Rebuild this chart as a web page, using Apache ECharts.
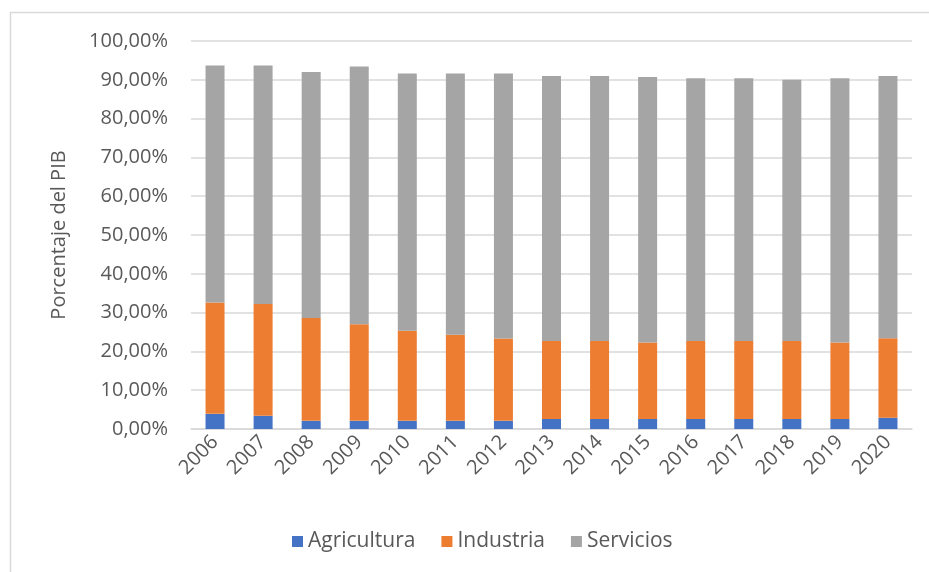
<!DOCTYPE html>
<html>
<head>
<meta charset="utf-8">
<script src="https://cdn.jsdelivr.net/npm/echarts@6/dist/echarts.min.js"></script>
<style>
  html, body { margin: 0; padding: 0; background: #fff; }
  #myChart { width: 929px; height: 572px; }
</style>
</head>
<body>
<div id="myChart"></div>
<script>
  // years on the x axis
  const years = ['2006', '2007', '2008', '2009', '2010', '2011', '2012', '2013',
    '2014', '2015', '2016', '2017', '2018', '2019', '2020']
  // share of GDP, percent
  const agricultura = [3.9, 3.4, 2.1, 2.1, 2.1, 2.1, 2.1, 2.6, 2.6, 2.6, 2.6, 2.6, 2.6, 2.6, 2.9]
  const industria = [28.7, 28.8, 26.5, 24.9, 23.2, 22.2, 21.2, 20.1, 20.1, 19.7, 20.1, 20.1, 20.1, 19.7, 20.5]
  const servicios = [61.1, 61.5, 63.4, 66.4, 66.3, 67.3, 68.3, 68.3, 68.3, 68.4, 67.7, 67.7, 67.3, 68.1, 67.6]

  const font = '"Open Sans", "Noto Sans", sans-serif'
  const textColor = '#595959'

  const myChart = echarts.init(document.getElementById('myChart'))
  myChart.setOption({
    animation: false,
    textStyle: { fontFamily: font },
    graphic: [
      {
        type: 'polyline',
        shape: { points: [[10.5, 572], [10.5, 12.5], [929, 12.5]] },
        style: { stroke: '#d9d9d9', lineWidth: 1.5, fill: null }
      }
    ],
    grid: {
      left: 191,
      right: 17,
      top: 41,
      bottom: 143
    },
    legend: {
      data: ['Agricultura', 'Industria', 'Servicios'],
      bottom: 15,
      left: 287,
      itemWidth: 11,
      itemHeight: 11,
      itemGap: 26,
      icon: 'rect',
      textStyle: { fontSize: 21, color: textColor, fontFamily: font }
    },
    xAxis: {
      type: 'category',
      data: years,
      axisLine: { lineStyle: { color: '#d9d9d9', width: 1.5 } },
      axisTick: { show: false },
      axisLabel: {
        rotate: 45,
        fontSize: 20,
        color: textColor,
        margin: 10,
        interval: 0
      }
    },
    yAxis: {
      type: 'value',
      min: 0,
      max: 100,
      interval: 10,
      name: 'Porcentaje del PIB',
      nameLocation: 'middle',
      nameGap: 122,
      nameTextStyle: { fontSize: 20, color: textColor },
      axisLabel: {
        fontSize: 20,
        color: textColor,
        margin: 23,
        formatter: v => v.toFixed(2).replace('.', ',') + '%'
      },
      splitLine: { lineStyle: { color: '#d9d9d9', width: 1.5 } }
    },
    series: [
      {
        name: 'Agricultura',
        type: 'bar',
        stack: 'Total',
        barWidth: 19,
        data: agricultura,
        itemStyle: { color: '#4472C4' }
      },
      {
        name: 'Industria',
        type: 'bar',
        stack: 'Total',
        barWidth: 19,
        data: industria,
        itemStyle: { color: '#ED7D31' }
      },
      {
        name: 'Servicios',
        type: 'bar',
        stack: 'Total',
        barWidth: 19,
        data: servicios,
        itemStyle: { color: '#A5A5A5' }
      }
    ]
  })
</script>
</body>
</html>
